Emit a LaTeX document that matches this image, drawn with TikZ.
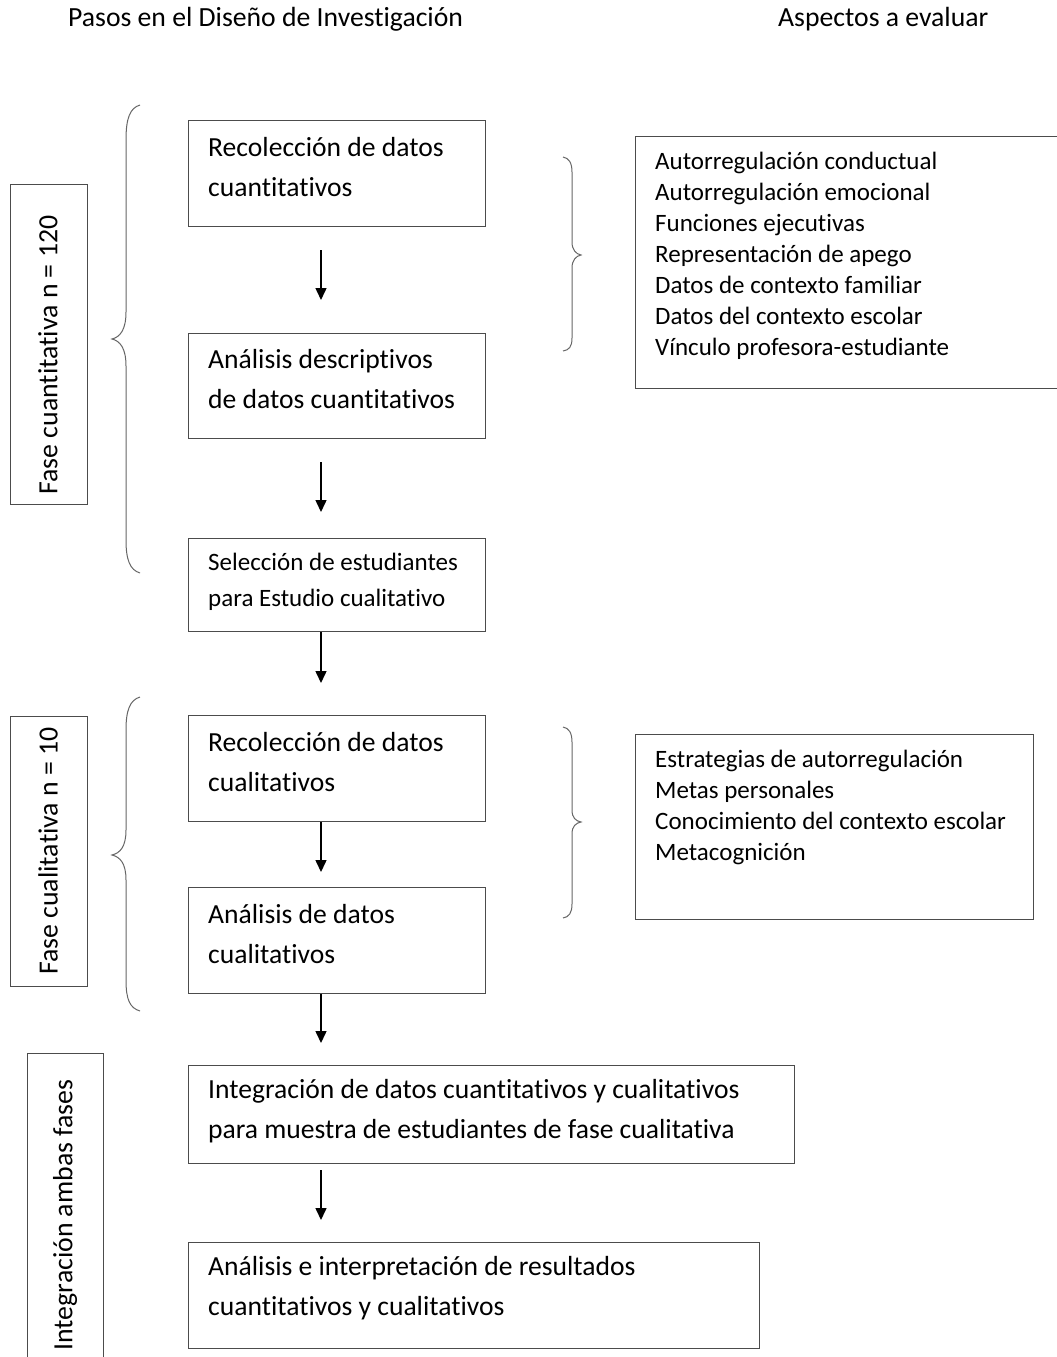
\documentclass[tikz,border=0pt]{standalone}
\usepackage{fontspec}
\setmainfont{Carlito}[Ligatures=CommonOff]
\usetikzlibrary{arrows.meta}
\begin{document}
\begin{tikzpicture}[x=1pt,y=-1pt,
  stepbox/.style={draw=black!70,line width=1.2pt,rectangle,inner sep=0pt,anchor=north west},
  sidebox/.style={draw=black!70,line width=1.2pt,rectangle,inner sep=0pt,anchor=north west},
  phase/.style={rotate=90,inner sep=0pt,font=\fontsize{27.8}{30}\selectfont},
  txt/.style={anchor=west,inner sep=0pt,align=left,font=\fontsize{27.6}{40}\selectfont},
  smalltxt/.style={anchor=west,inner sep=0pt,align=left,font=\fontsize{25}{36}\selectfont},
  listtxt/.style={anchor=north west,inner sep=0pt,align=left,font=\fontsize{25}{31}\selectfont},
  title/.style={inner sep=0pt,font=\fontsize{27.7}{30}\selectfont},
  flow/.style={-{Triangle[length=12pt,width=11pt]},line width=1.5pt},
  curly/.style={draw=black!60,line width=1pt}]
\clip (0,0) rectangle (1057,1357);
\fill[white] (0,0) rectangle (1057,1357);

% column headings
\node[title,anchor=west] (h1) at (68,19) {Pasos en el Diseño de Investigación};
\node[title,anchor=west] (h2) at (778,19) {Aspectos a evaluar};

% phase labels
\node[sidebox,minimum width=77,minimum height=320] (p1) at (10,184) {};
\node[phase] (p1t) at (48,355) {Fase cuantitativa n = 120};
\node[sidebox,minimum width=77,minimum height=270] (p2) at (10,716) {};
\node[phase] (p2t) at (48,851) {Fase cualitativa n = 10};
\node[sidebox,minimum width=76,minimum height=330] (p3) at (27,1053) {};
\node[phase] (p3t) at (65,1215) {Integración ambas fases};

% quantitative steps
\node[stepbox,minimum width=297,minimum height=106] (a1) at (188,120) {};
\node[txt] (a1t) at (208,167) {Recolección de datos\\cuantitativos};
\node[stepbox,minimum width=297,minimum height=105] (a2) at (188,333) {};
\node[txt] (a2t) at (208,379) {Análisis descriptivos\\de datos cuantitativos};
\node[stepbox,minimum width=297,minimum height=93] (a3) at (188,538) {};
\node[smalltxt] (a3t) at (208,582) {Selección de estudiantes\\para Estudio cualitativo};

% qualitative steps
\node[stepbox,minimum width=297,minimum height=106] (b1) at (188,715) {};
\node[txt] (b1t) at (208,762) {Recolección de datos\\cualitativos};
\node[stepbox,minimum width=297,minimum height=106] (b2) at (188,887) {};
\node[txt] (b2t) at (208,934) {Análisis de datos\\cualitativos};

% integration steps
\node[stepbox,minimum width=606,minimum height=98] (c1) at (188,1065) {};
\node[txt] (c1t) at (208,1111) {Integración de datos cuantitativos y cualitativos\\para muestra de estudiantes de fase cualitativa};
\node[stepbox,minimum width=571,minimum height=106] (c2) at (188,1242) {};
\node[txt] (c2t) at (208,1288) {Análisis e interpretación de resultados\\cuantitativos y cualitativos};

% aspects to evaluate
\node[sidebox,minimum width=440,minimum height=252] (r1) at (635,136) {};
\node[listtxt] (r1t) at (655,152) {Autorregulación conductual\\Autorregulación emocional\\Funciones ejecutivas\\Representación de apego\\Datos de contexto familiar\\Datos del contexto escolar\\Vínculo profesora-estudiante};
\node[sidebox,minimum width=398,minimum height=185] (r2) at (635,734) {};
\node[listtxt] (r2t) at (655,750) {Estrategias de autorregulación\\Metas personales\\Conocimiento del contexto escolar\\Metacognición};

% arrows between steps
\coordinate (s1) at (321,250); \coordinate (e1) at (321,300);
\coordinate (s2) at (321,462); \coordinate (e2) at (321,512);
\coordinate (e3) at (321,683);
\coordinate (e4) at (321,872);
\coordinate (e5) at (321,1043);
\coordinate (s6) at (321,1170); \coordinate (e6) at (321,1220);
\draw[flow] (s1) -- (e1);
\draw[flow] (s2) -- (e2);
\draw[flow] (a3.south -| e3) -- (e3);
\draw[flow] (b1.south -| e4) -- (e4);
\draw[flow] (b2.south -| e5) -- (e5);
\draw[flow] (s6) -- (e6);

% left braces grouping the phases
\draw[curly] (140,105) .. controls (130,108) and (126,118) .. (126,140) -- (126,312)
  .. controls (126,330) and (120,337) .. (112,339)
  .. controls (120,341) and (126,348) .. (126,366) -- (126,540)
  .. controls (126,560) and (130,570) .. (140,573);
\draw[curly] (140,697) .. controls (130,700) and (126,710) .. (126,730) -- (126,830)
  .. controls (126,847) and (120,853) .. (112,855)
  .. controls (120,857) and (126,863) .. (126,880) -- (126,980)
  .. controls (126,1000) and (130,1008) .. (140,1011);

% right braces pointing to the aspects
\draw[curly] (563,157) .. controls (569,158) and (572,163) .. (572,172) -- (572,242)
  .. controls (572,250) and (576,254) .. (581,255)
  .. controls (576,256) and (572,260) .. (572,268) -- (572,338)
  .. controls (572,347) and (569,350) .. (563,351);
\draw[curly] (563,727) .. controls (569,728) and (572,733) .. (572,742) -- (572,810)
  .. controls (572,818) and (576,821) .. (581,822)
  .. controls (576,823) and (572,826) .. (572,834) -- (572,904)
  .. controls (572,913) and (569,917) .. (563,918);
\end{tikzpicture}
\end{document}
